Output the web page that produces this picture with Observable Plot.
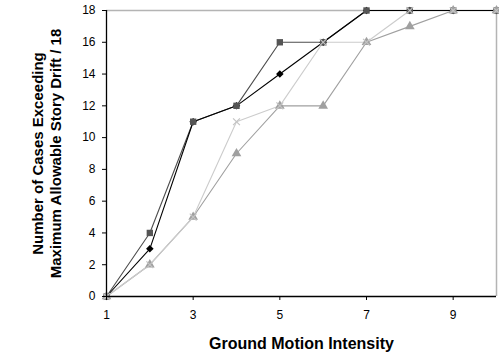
<!DOCTYPE html>
<html>
<head>
<meta charset="utf-8">
<script src="https://cdn.jsdelivr.net/npm/d3@7"></script>
<script src="https://cdn.jsdelivr.net/npm/@observablehq/plot@0.6"></script>
<style>
  html, body { margin: 0; padding: 0; background: #fff; }
  #chart svg { display: block; }
</style>
</head>
<body>
<div id="chart"></div>
<script>
const intensity = [1, 2, 3, 4, 5, 6, 7, 8, 9, 10];
const seriesDiamond  = [0, 3, 11, 12, 14, 16, 18, 18, 18, 18];
const seriesSquare   = [0, 4, 11, 12, 16, 16, 18, 18, 18, 18];
const seriesCross    = [0, 2, 5, 11, 12, 16, 16, 18, 18, 18];
const seriesTriangle = [0, 2, 5, 9, 12, 12, 16, 17, 18, 18];
const xTicks = [1, 3, 5, 7, 9];
const yTicks = [0, 2, 4, 6, 8, 10, 12, 14, 16, 18];
const xTitle = "Ground Motion Intensity";
const yTitle = "Number of Cases Exceeding\nMaximum Allowable Story Drift / 18";

const toRows = (vals) => intensity.map((x, i) => ({x, y: vals[i]}));
const dDiamond = toRows(seriesDiamond);
const dSquare = toRows(seriesSquare);
const dCross = toRows(seriesCross);
const dTriangle = toRows(seriesTriangle);

const chart = Plot.plot({
  width: 499,
  height: 359,
  marginLeft: 106,
  marginRight: 3,
  marginTop: 10,
  marginBottom: 63,
  style: {fontFamily: "Liberation Sans, Arial, sans-serif", fontSize: "12px", color: "#000", background: "#fff", overflow: "visible"},
  x: {domain: [1, 10]},
  y: {domain: [0, 18]},
  marks: [
    Plot.ruleY([18], {stroke: "#b4b4b4", strokeWidth: 1.5}),
    Plot.ruleX([10], {stroke: "#b4b4b4", strokeWidth: 1.5}),
    Plot.line(dTriangle, {x: "x", y: "y", stroke: "#a0a0a0", strokeWidth: 1.1}),
    Plot.line(dCross, {x: "x", y: "y", stroke: "#cccccc", strokeWidth: 1.1}),
    Plot.line(dSquare, {x: "x", y: "y", stroke: "#4d4d4d", strokeWidth: 1.1}),
    Plot.line(dDiamond, {x: "x", y: "y", stroke: "#000000", strokeWidth: 1.1}),
    Plot.dot(dDiamond, {x: "x", y: "y", symbol: "diamond2", r: 3.4, fill: "#000000", stroke: "none"}),
    Plot.dot(dSquare, {x: "x", y: "y", symbol: "square", r: 3.6, fill: "#555555", stroke: "none"}),
    Plot.dot(dTriangle, {x: "x", y: "y", symbol: "triangle", r: 3.6, fill: "#a0a0a0", stroke: "none"}),
    Plot.dot(dCross, {x: "x", y: "y", symbol: "times", r: 3.2, stroke: "#c4c4c4", strokeWidth: 1.2}),
    Plot.ruleX([1], {stroke: "#000", strokeWidth: 1.3}),
    Plot.ruleY([0], {stroke: "#000", strokeWidth: 1.3}),
    Plot.axisY({ticks: yTicks, tickSize: 4, tickPadding: 7, fontSize: 12, label: null, stroke: "#000"}),
    Plot.axisX({ticks: xTicks, tickSize: 4, tickPadding: 10, fontSize: 12, label: null, stroke: "#000"}),
    Plot.text([xTitle], {frameAnchor: "bottom", textAnchor: "middle", dy: 52, fontWeight: "bold", fontSize: 16, fill: "#000"}),
    Plot.text([yTitle], {frameAnchor: "left", textAnchor: "middle", lineAnchor: "middle", dx: -60, rotate: -90, fontWeight: "bold", fontSize: 15, lineHeight: 1.15, fill: "#000"})
  ]
});
document.getElementById("chart").appendChild(chart);
</script>
</body>
</html>
